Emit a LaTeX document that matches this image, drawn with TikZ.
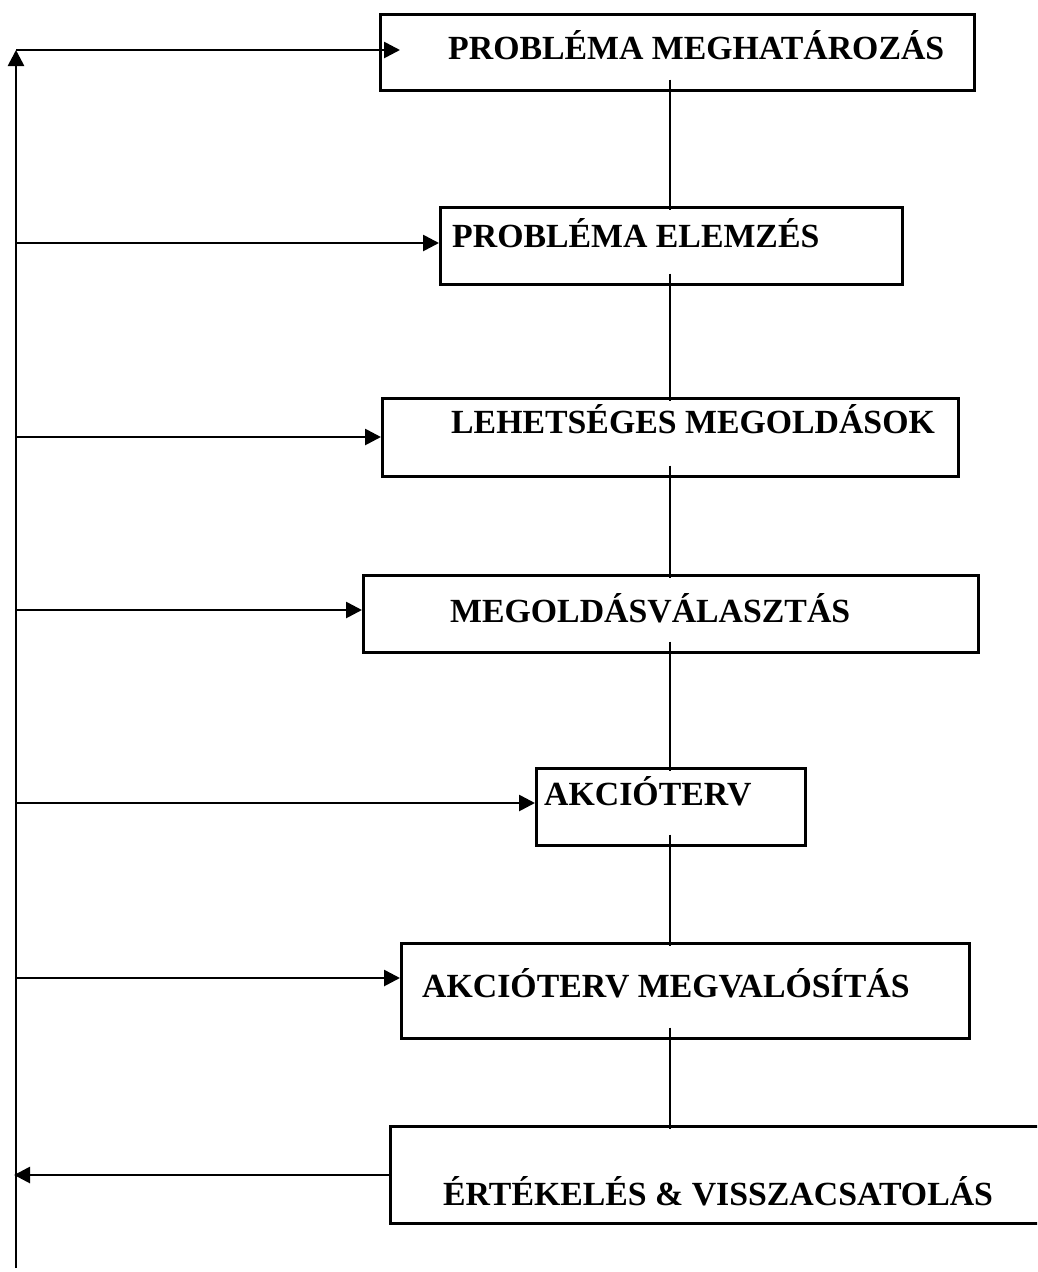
\documentclass[tikz,border=0pt]{standalone}
\usepackage{fontspec}
\setmainfont{Liberation Serif}
\usetikzlibrary{arrows.meta}
\begin{document}
\begin{tikzpicture}[x=1pt,y=-1pt,
  box/.style={draw,line width=2.7pt,inner sep=0pt,anchor=north west},
  lbl/.style={inner sep=0pt,anchor=base west,font=\fontsize{33.8}{40}\selectfont\bfseries},
  conn/.style={line width=2.7pt,shorten <=-12pt,shorten >=-4pt},
  arr/.style={line width=2.7pt,-{Triangle[length=16pt,width=16pt]}}]
\useasboundingbox (0,0) rectangle (1037,1272);
\clip (0,0) rectangle (1037,1272);
% boxes
\node[box,minimum width=594pt,minimum height=76pt] (b1) at (379,13) {};
\node[box,minimum width=462pt,minimum height=77pt] (b2) at (439,206) {};
\node[box,minimum width=576pt,minimum height=78pt] (b3) at (381,397) {};
\node[box,minimum width=615pt,minimum height=77pt] (b4) at (362,574) {};
\node[box,minimum width=269pt,minimum height=77pt] (b5) at (535,767) {};
\node[box,minimum width=568pt,minimum height=95pt] (b6) at (400,942) {};
\node[box,minimum width=680pt,minimum height=97pt] (b7) at (389,1125) {};
% labels
\node[lbl] (t1) at (448,59) {PROBLÉMA MEGHATÁROZÁS};
\node[lbl] (t2) at (452,247) {PROBLÉMA ELEMZÉS};
\node[lbl] (t3) at (451,433) {LEHETSÉGES MEGOLDÁSOK};
\node[lbl] (t4) at (450,622) {MEGOLDÁSVÁLASZTÁS};
\node[lbl] (t5) at (544,805) {AKCIÓTERV};
\node[lbl] (t6) at (422,997) {AKCIÓTERV MEGVALÓSÍTÁS};
\node[lbl] (t7) at (443,1205) {ÉRTÉKELÉS \& VISSZACSATOLÁS};
% vertical connectors
\coordinate (cx) at (670,0);
\draw[conn] (b1.south -| cx) -- (b2.north -| cx);
\draw[conn] (b2.south -| cx) -- (b3.north -| cx);
\draw[conn] (b3.south -| cx) -- (b4.north -| cx);
\draw[conn] (b4.south -| cx) -- (b5.north -| cx);
\draw[conn] (b5.south -| cx) -- (b6.north -| cx);
\draw[conn] (b6.south -| cx) -- (b7.north -| cx);
% feedback spine
\coordinate (sb) at (16,1268);
\coordinate (s1) at (16,50);
\coordinate (e1) at (400,50);
\coordinate (s2) at (16,243);
\coordinate (s3) at (16,437);
\coordinate (s4) at (16,610);
\coordinate (s5) at (16,803);
\coordinate (s6) at (16,978);
\coordinate (s7) at (14,1175);
\draw[arr] (sb) -- (s1);
\draw[arr] (s1) -- (e1);
\draw[arr] (s2) -- (b2.west |- s2);
\draw[arr] (s3) -- (b3.west |- s3);
\draw[arr] (s4) -- (b4.west |- s4);
\draw[arr] (s5) -- (b5.west |- s5);
\draw[arr] (s6) -- (b6.west |- s6);
\draw[arr] (b7.west |- s7) -- (s7);
\end{tikzpicture}
\end{document}
